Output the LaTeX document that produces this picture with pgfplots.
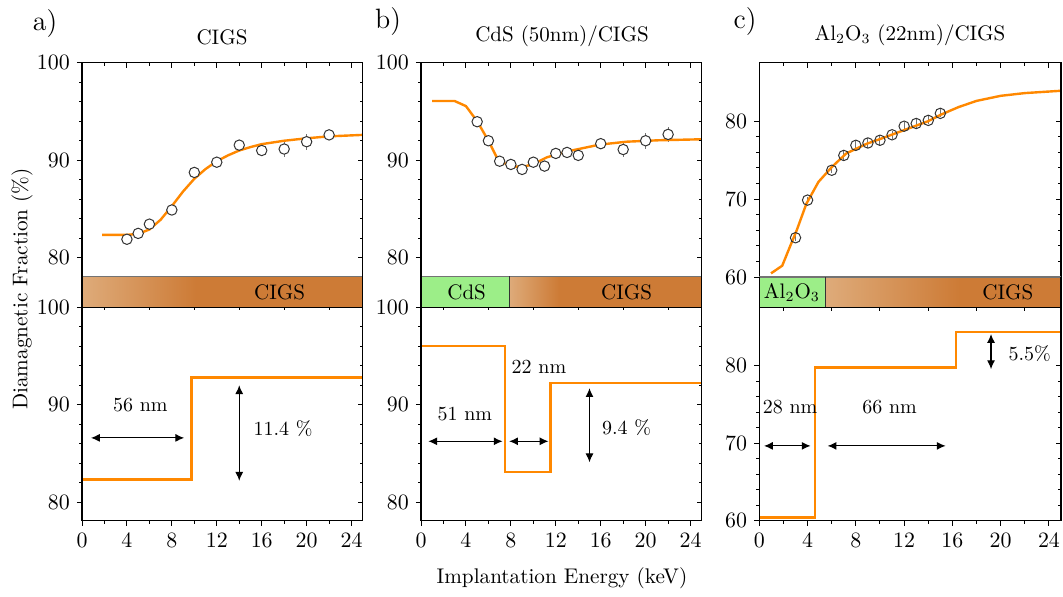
\documentclass[border=0pt]{standalone}
\usepackage{pgfplots}
\pgfplotsset{compat=1.18}
\usetikzlibrary{arrows.meta}
\definecolor{fitorange}{RGB}{255,136,0}
\definecolor{cigs}{RGB}{205,123,54}
\definecolor{tanc}{RGB}{222,171,122}
\definecolor{lgreen}{RGB}{156,238,136}

\pgfplotsset{
  base/.style={scale only axis, xmin=0, xmax=25, xtick={0,4,...,24},
    minor x tick num=1, minor y tick num=4,
    major tick length=2.6pt, minor tick length=1.5pt,
    every tick/.style={black, line width=0.5pt},
    axis line style={line width=0.6pt},
    tick label style={font=\fontsize{10.8}{12}\selectfont},
    clip=false},
  mainax/.style={base, tick align=outside, ytick pos=left, xtick pos=left},
  mirrorax/.style={base, tick align=inside, ytick pos=right, xtick pos=right,
    yticklabels={}, xticklabels={}},
  noxt/.style={xmajorticks=false, xminorticks=false, xticklabels={}},
  ab/.style={ymin=78.1, ymax=100, ytick={80,90,100}},
  cc/.style={ymin=60, ymax=87.5, ytick={60,70,80}},
  geoAt/.style={at={(41pt,-31.35pt)}, anchor=north west, width=140.4pt, height=106.8pt, ab},
  geoAb/.style={at={(41pt,-153.65pt)}, anchor=north west, width=140.4pt, height=106.7pt, ab},
  geoBt/.style={at={(210.5pt,-31.35pt)}, anchor=north west, width=140.4pt, height=106.8pt, ab},
  geoBb/.style={at={(210.5pt,-153.65pt)}, anchor=north west, width=140.4pt, height=106.7pt, ab},
  geoCt/.style={at={(379.65pt,-31.35pt)}, anchor=north west, width=150.85pt, height=107.15pt, cc},
  geoCb/.style={at={(379.65pt,-153.85pt)}, anchor=north west, width=150.85pt, height=106.5pt, cc},
  dataplot/.style={only marks, mark=#1, mark size=2.6pt,
    mark options={line width=0.5pt, draw=black!80, fill=white},
    error bars/.cd, y dir=both, y explicit, error mark=none,
    error bar style={line width=0.5pt, black!55}},
  dataplot/.default={o},
  fitline/.style={fitorange, line width=1.2pt, mark=none},
  stepline/.style={fitorange, line width=1.2pt, mark=none},
}
\tikzset{arr/.style={{Latex[length=4.4pt,width=4pt]}-{Latex[length=4.4pt,width=4pt]}, line width=0.55pt, black},
  ann/.style={font=\fontsize{10}{12}\selectfont}}

\begin{document}
\begin{tikzpicture}
\useasboundingbox (0,0) rectangle (531.5pt,-298pt);

% ================= Panel a =================
\begin{axis}[mainax, geoAt, noxt]
\addplot+[dataplot=*] table[x=x, y=y, y error=e] {
x y e
4 81.9 0.3
5 82.5 0.3
6 83.45 0.3
8 84.9 0.3
10 88.75 0.3
12 89.8 0.3
14 91.55 0.3
16 91.0 0.6
18 91.15 0.8
20 91.9 0.8
22 92.6 0.5
};
\addplot[fitline] coordinates {(1.8,82.35)(4,82.35)(5,82.45)(6,82.9)(7,83.9)(8,85.3)(9,86.8)(10,88.1)(11,89.1)(12,89.9)(13,90.5)(14,91.0)(15,91.35)(16,91.65)(18,92.0)(20,92.25)(22,92.45)(25,92.6)};
\end{axis}
\begin{axis}[mirrorax, geoAt]
\end{axis}
\begin{axis}[mainax, geoAb]
\addplot[stepline] coordinates {(0,82.35)(9.75,82.35)(9.75,92.8)(25,92.8)};
\shade[left color=tanc, right color=cigs] (axis cs:0,100) rectangle (axis cs:10.15,103.18);
\fill[cigs] (axis cs:10.15,100) rectangle (axis cs:25,103.18);
\draw[black!55, line width=0.6pt] (axis cs:0,103.18) -- (axis cs:25,103.18);
\draw[black, line width=0.6pt] (axis cs:0,100) -- (axis cs:25,100);
\draw[black, line width=0.6pt] (axis cs:0,100) -- (axis cs:0,103.18);
\draw[black, line width=0.6pt] (axis cs:25,100) -- (axis cs:25,103.18);
\node[font=\fontsize{10.5}{12}\selectfont] at (axis cs:17.6,101.55) {CIGS};
\draw[arr] (axis cs:0.8,86.6) -- (axis cs:9.1,86.6);
\node[ann] at (axis cs:5.2,90.0) {56 nm};
\draw[arr] (axis cs:14,92.0) -- (axis cs:14,82.2);
\node[ann] at (axis cs:17.9,87.55) {11.4 \%};
\end{axis}
\begin{axis}[mirrorax, geoAb, noxt]
\end{axis}

% ================= Panel b =================
\begin{axis}[mainax, geoBt, noxt]
\addplot+[dataplot=*] table[x=x, y=y, y error=e] {
x y e
5 93.95 0.3
6 92.0 0.3
7 89.9 0.3
8 89.57 0.3
9 89.06 0.3
10 89.8 0.3
11 89.4 0.3
12 90.7 0.3
13 90.8 0.3
14 90.5 0.3
16 91.7 0.5
18 91.1 0.8
20 92.0 0.8
22 92.65 0.8
};
\addplot[fitline] coordinates {(1,96.07)(3,96.07)(4,95.55)(5,94.0)(6,92.0)(6.7,90.4)(7.3,89.75)(8.2,89.35)(9.1,89.33)(10,89.6)(11.2,90.3)(13,90.9)(15.9,91.6)(18.3,91.9)(21.2,92.05)(25,92.15)};
\end{axis}
\begin{axis}[mirrorax, geoBt]
\end{axis}
\begin{axis}[mainax, geoBb]
\addplot[stepline] coordinates {(0,96.05)(7.47,96.05)(7.47,83.1)(11.53,83.1)(11.53,92.25)(25,92.25)};
\fill[lgreen] (axis cs:0,100) rectangle (axis cs:7.85,103.18);
\shade[left color=tanc, right color=cigs] (axis cs:7.85,100) rectangle (axis cs:12.27,103.18);
\fill[cigs] (axis cs:12.27,100) rectangle (axis cs:25,103.18);
\draw[black!55, line width=0.6pt] (axis cs:0,103.18) -- (axis cs:25,103.18);
\draw[black, line width=0.6pt] (axis cs:0,100) -- (axis cs:25,100);
\draw[black, line width=0.6pt] (axis cs:0,100) -- (axis cs:0,103.18);
\draw[black, line width=0.6pt] (axis cs:25,100) -- (axis cs:25,103.18);
\draw[black!80, line width=0.5pt] (axis cs:7.85,100) -- (axis cs:7.85,103.18);
\node[font=\fontsize{10.5}{12}\selectfont] at (axis cs:4.06,101.55) {CdS};
\node[font=\fontsize{10.5}{12}\selectfont] at (axis cs:18.3,101.55) {CIGS};
\draw[arr] (axis cs:0.65,86.25) -- (axis cs:7.26,86.25);
\draw[arr] (axis cs:7.85,86.25) -- (axis cs:11.35,86.25);
\node[ann] at (axis cs:3.9,89.0) {51 nm};
\node[ann] at (axis cs:10.5,93.85) {22 nm};
\draw[arr] (axis cs:15,91.7) -- (axis cs:15,84.1);
\node[ann] at (axis cs:18.3,87.7) {9.4 \%};
\end{axis}
\begin{axis}[mirrorax, geoBb, noxt]
\end{axis}

% ================= Panel c =================
\begin{axis}[mainax, geoCt, noxt]
\addplot+[dataplot] table[x=x, y=y, y error=e] {
x y e
3 65.04 0.4
4 69.87 0.4
6 73.7 0.4
7 75.6 0.6
8 76.9 0.6
9 77.2 0.6
10 77.55 0.7
11 78.25 0.5
12 79.35 0.5
13 79.7 0.6
14 80.1 0.5
15 81.0 0.5
};
\addplot[fitline] coordinates {(0.97,60.47)(1.9,61.45)(2.54,63.9)(3.1,66.0)(3.9,69.4)(4.9,72.2)(6,74.1)(7.2,75.85)(8.9,77.1)(10,77.7)(12,78.85)(14,80.0)(15,80.8)(16.5,81.8)(18,82.6)(20,83.25)(22,83.6)(25,83.9)};
\end{axis}
\begin{axis}[mirrorax, geoCt]
\end{axis}
\begin{axis}[mainax, geoCb]
\addplot[stepline] coordinates {(0,60.4)(4.6,60.4)(4.6,79.8)(16.3,79.8)(16.3,84.4)(25,84.4)};
\fill[lgreen] (axis cs:0,87.5) rectangle (axis cs:5.47,91.46);
\shade[left color=tanc, right color=cigs] (axis cs:5.47,87.5) rectangle (axis cs:16.6,91.46);
\fill[cigs] (axis cs:16.6,87.5) rectangle (axis cs:25,91.46);
\draw[black!55, line width=0.6pt] (axis cs:0,91.46) -- (axis cs:25,91.46);
\draw[black, line width=0.6pt] (axis cs:0,87.5) -- (axis cs:25,87.5);
\draw[black, line width=0.6pt] (axis cs:0,87.5) -- (axis cs:0,91.46);
\draw[black, line width=0.6pt] (axis cs:25,87.5) -- (axis cs:25,91.46);
\draw[black!80, line width=0.5pt] (axis cs:5.47,87.5) -- (axis cs:5.47,91.46);
\node[font=\fontsize{10.5}{12}\selectfont] at (axis cs:2.7,89.45) {Al$_2$O$_3$};
\node[font=\fontsize{10.5}{12}\selectfont] at (axis cs:20.6,89.45) {CIGS};
\draw[arr] (axis cs:0.39,69.66) -- (axis cs:4.25,69.66);
\draw[arr] (axis cs:5.66,69.66) -- (axis cs:15.44,69.66);
\node[ann] at (axis cs:2.55,74.7) {28 nm};
\node[ann] at (axis cs:10.8,74.7) {66 nm};
\draw[arr] (axis cs:19.2,84.1) -- (axis cs:19.2,79.57);
\node[ann] at (axis cs:22.4,81.55) {5.5\%};
\end{axis}
\begin{axis}[mirrorax, geoCb, noxt]
\end{axis}

% ================= Titles and labels =================
\node[font=\fontsize{14}{16}\selectfont] at (22.5pt,-12pt) {a)};
\node[font=\fontsize{14}{16}\selectfont] at (194pt,-11pt) {b)};
\node[font=\fontsize{14}{16}\selectfont] at (372.5pt,-11pt) {c)};
\node[font=\fontsize{10.5}{12}\selectfont] at (111pt,-18.5pt) {CIGS};
\node[font=\fontsize{10.5}{12}\selectfont] at (281pt,-18pt) {CdS (50nm)/CIGS};
\node[font=\fontsize{10.5}{12}\selectfont] at (455pt,-17.5pt) {Al$_2$O$_3$ (22nm)/CIGS};
\node[font=\fontsize{10.6}{12}\selectfont, rotate=90] at (11pt,-144.5pt) {Diamagnetic Fraction (\%)};
\node[font=\fontsize{10.6}{12}\selectfont] at (281pt,-289pt) {Implantation Energy (keV)};
\end{tikzpicture}
\end{document}
